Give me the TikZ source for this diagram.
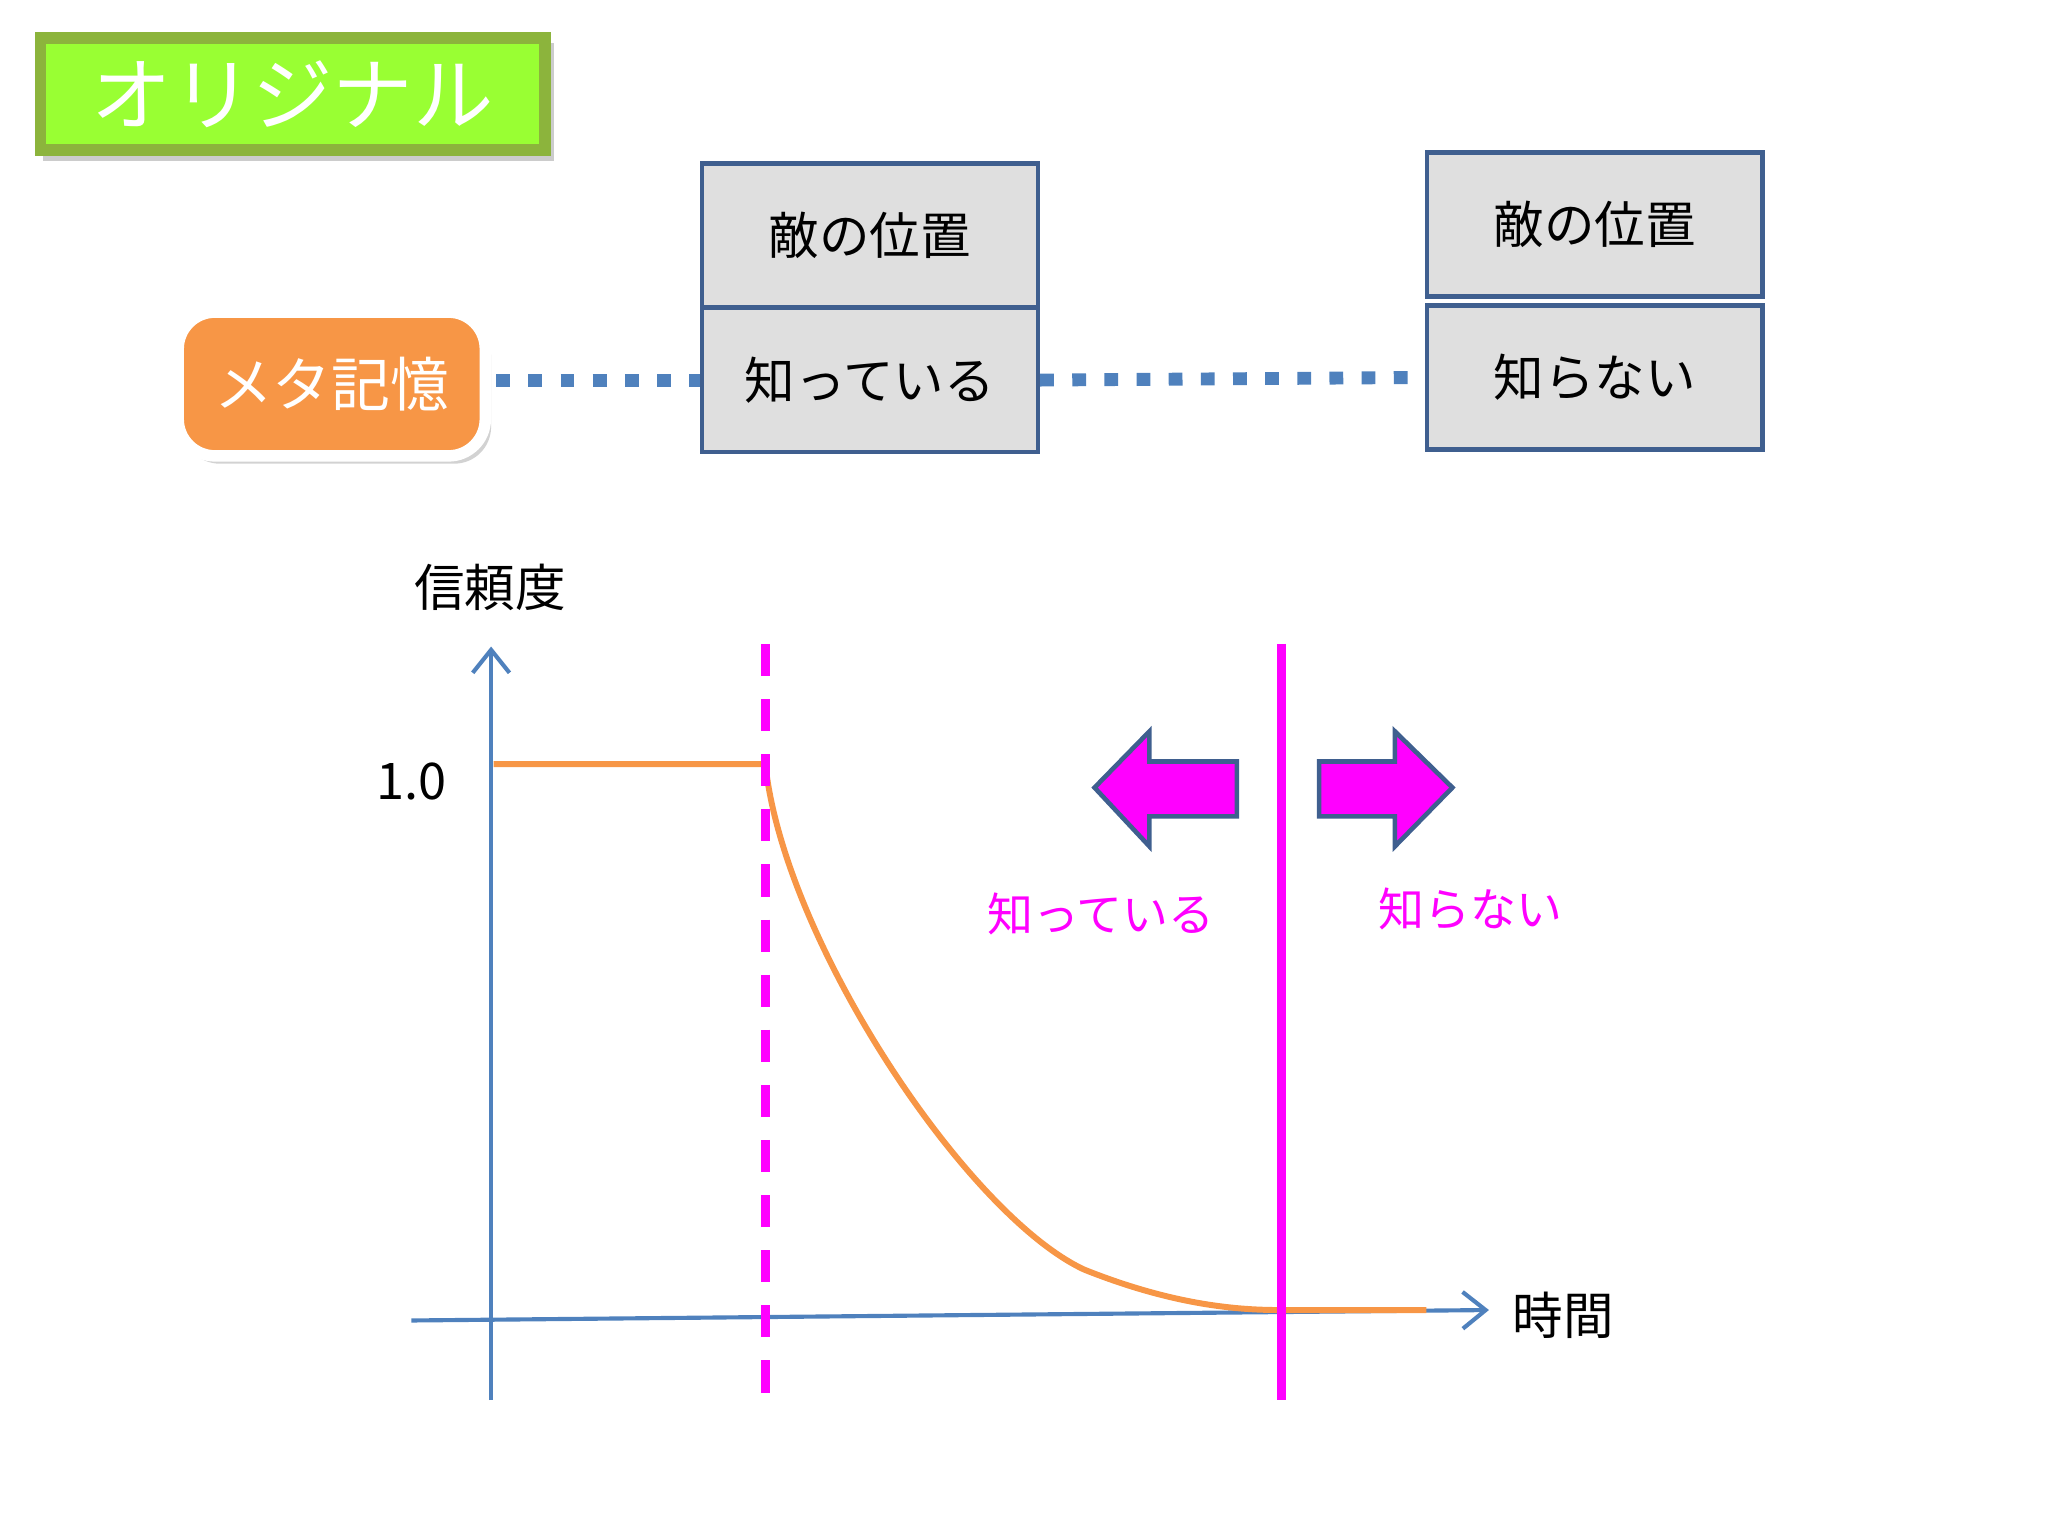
\documentclass[tikz,border=0pt]{standalone}
\usepackage{fontspec}
\setmainfont{Noto Sans CJK JP}
\usetikzlibrary{arrows.meta,shapes.arrows}
\definecolor{dblue}{HTML}{3F5F8F}
\definecolor{lblue}{HTML}{4F81BD}
\definecolor{orng}{HTML}{F79646}
\definecolor{mag}{HTML}{FF00FF}
\tikzset{
 cell/.style={draw=dblue,line width=1pt,fill=gray!25,minimum width=2.57cm,minimum height=1.1cm,font=\fontsize{11}{13}\selectfont,inner sep=0},
 dotl/.style={lblue,line width=2.8pt,dash pattern=on 3pt off 4pt},
 axis/.style={lblue,line width=0.9pt,-{Straight Barb[length=5pt,width=8pt]}},
 lbl/.style={font=\fontsize{11}{13}\selectfont},
 mlbl/.style={font=\fontsize{10}{12}\selectfont,text=mag},
}
\begin{document}
\begin{tikzpicture}[x=0.01cm,y=-0.01cm]
\useasboundingbox (0,0) rectangle (1568,1176);
% title
\fill[gray!40] (33,33) rectangle (424,123);
\node (title) [draw={rgb,255:red,140;green,180;blue,60},line width=2.5pt,fill={rgb,255:red,153;green,255;blue,51},minimum width=3.86cm,minimum height=0.86cm,text=white,font=\fontsize{17.5}{20}\selectfont,inner sep=0] at (224,72) {オリジナル};
% meta
\fill[gray!35,rounded corners=8pt] (140,245) rectangle (376,355);
\node (meta) [draw=white,line width=2.5pt,fill=orng,rounded corners=8pt,minimum width=2.35cm,minimum height=1.1cm,text=white,font=\fontsize{12.8}{15}\selectfont,inner sep=0] at (254,294) {メタ記憶};
% boxes
\node (a1) [cell] at (666,180) {敵の位置};
\node (a2) [cell] at (666,291) {知っている};
\node (b1) [cell] at (1221,172) {敵の位置};
\node (b2) [cell] at (1221,289) {知らない};
\draw[dotl] (meta.east) ++(4,-3) -- (a2.west);
\draw[dotl] (a2.east) -- (b2.west);
% chart
\coordinate (ya) at (376,1072); \coordinate (yb) at (376,495);
\coordinate (xa) at (315,1011); \coordinate (xb) at (1140,1003);
\draw[axis] (ya) -- (yb);
\draw[axis] (xa) -- (xb);
\node (ylab) [lbl] at (375,450) {信頼度};
\node (one) [font=\fontsize{11}{13}\selectfont] at (315,598) {1.0};
\node (xlab) [lbl] at (1197,1007) {時間};
\coordinate (c0) at (378,585); \coordinate (c1) at (586,585);
\draw[orng,line width=1.3pt] (c0) -- (c1) .. controls (600,720) and (740,930) .. (830,972) .. controls (900,1000) and (950,1003) .. (980,1003) -- (1092,1003);
\draw[mag,line width=2pt,dash pattern=on 7pt off 5pt] (586,493) -- (586,1068);
\draw[mag,line width=2pt] (981,493) -- (981,1072);
\draw[draw=dblue,line width=1pt,fill=mag] (947,583) -- (880,583) -- (880,560) -- (838,603) -- (880,648) -- (880,625) -- (947,625) -- cycle;
\draw[draw=dblue,line width=1pt,fill=mag] (1010,583) -- (1068,583) -- (1068,560) -- (1112,603) -- (1068,648) -- (1068,625) -- (1010,625) -- cycle;
\node (k) [mlbl] at (843,700) {知っている};
\node (s) [mlbl] at (1126,696) {知らない};
\end{tikzpicture}
\end{document}
